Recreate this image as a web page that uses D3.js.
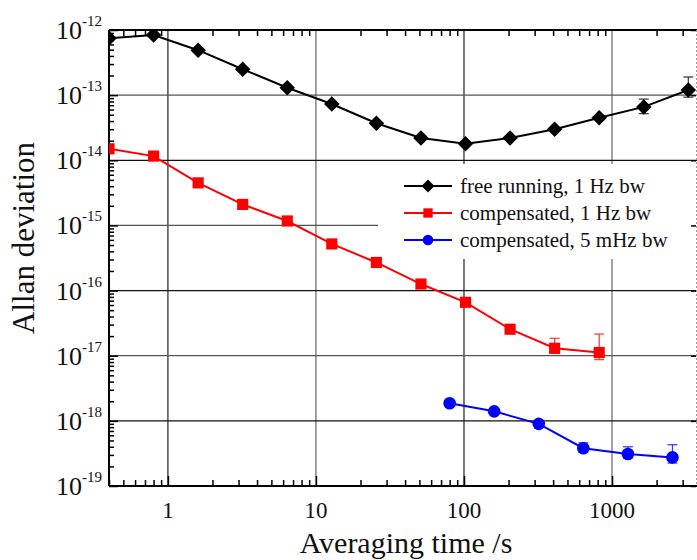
<!DOCTYPE html>
<html>
<head>
<meta charset="utf-8">
<script src="https://cdn.jsdelivr.net/npm/d3@7"></script>
<style>
  body { margin: 0; background: #fff; }
  svg { display: block; }
  svg text { font-family: "Liberation Serif", "Times New Roman", serif; }
</style>
</head>
<body>
<div id="chart"></div>
<script>
const width = 697;
const height = 560;
const margin = { top: 30, right: 0, bottom: 74, left: 109 };

// averaging times (s)
const tauFree = [0.4, 0.8, 1.6, 3.2, 6.4, 12.8, 25.6, 51.2, 102.4, 204.8, 409.6, 819.2, 1638.4, 3276.8];
const adevFree = [7.5e-13, 8.4e-13, 4.9e-13, 2.5e-13, 1.3e-13, 7.3e-14, 3.7e-14, 2.2e-14, 1.8e-14, 2.2e-14, 3.0e-14, 4.5e-14, 6.6e-14, 1.2e-13];

const tauComp = [0.4, 0.8, 1.6, 3.2, 6.4, 12.8, 25.6, 51.2, 102.4, 204.8, 409.6, 819.2];
const adevComp = [1.5e-14, 1.16e-14, 4.5e-15, 2.1e-15, 1.17e-15, 5.2e-16, 2.7e-16, 1.26e-16, 6.6e-17, 2.55e-17, 1.3e-17, 1.12e-17];

const tauSlow = [80, 160, 320, 640, 1280, 2560];
const adevSlow = [1.86e-18, 1.4e-18, 9.0e-19, 3.8e-19, 3.1e-19, 2.75e-19];

// error bars [tau, low, high]
const errFree = [[1638.4, 5.2e-14, 8.7e-14], [3276.8, 9.3e-14, 1.9e-13]];
const errComp = [[409.6, 1.1e-17, 1.85e-17], [819.2, 8.7e-18, 2.15e-17]];
const errSlow = [[640, 3.3e-19, 4.6e-19], [1280, 2.7e-19, 4.0e-19], [2560, 2.25e-19, 4.3e-19]];

const xMajor = [1, 10, 100, 1000];
const yExponents = [-19, -18, -17, -16, -15, -14, -13, -12];
const legendLabels = ["free running, 1 Hz bw", "compensated, 1 Hz bw", "compensated, 5 mHz bw"];

const x = d3.scaleLog().domain([0.4, 3750]).range([margin.left, width - margin.right]);
const y = d3.scaleLog().domain([1e-19, 1e-12]).range([height - margin.bottom, margin.top]);

const svg = d3.select("#chart").append("svg")
  .attr("width", width)
  .attr("height", height);

svg.append("defs").append("clipPath").attr("id", "plot")
  .append("rect")
  .attr("x", margin.left).attr("y", margin.top)
  .attr("width", width - margin.left - margin.right)
  .attr("height", height - margin.top - margin.bottom);

// minor ticks
const xMinor = [];
[0.1, 1, 10, 100, 1000].forEach(d => { for (let k = 2; k < 10; k++) { const v = d * k; if (v >= 0.4 && v <= 3750) xMinor.push(v); } });
const yMinor = [];
yExponents.slice(0, -1).forEach(e => { for (let k = 2; k < 10; k++) yMinor.push(k * Math.pow(10, e)); });

// grid
const grid = svg.append("g");
grid.selectAll(".vg").data(xMajor).enter().append("line")
  .attr("x1", d => x(d)).attr("x2", d => x(d))
  .attr("y1", margin.top).attr("y2", height - margin.bottom)
  .attr("stroke", (d, i) => i % 2 ? "#666" : "#222").attr("stroke-width", 1.2);
grid.selectAll(".hg").data(yExponents.slice(1, -1)).enter().append("line")
  .attr("x1", margin.left).attr("x2", width)
  .attr("y1", d => y(Math.pow(10, d))).attr("y2", d => y(Math.pow(10, d)))
  .attr("stroke", (d, i) => i % 2 ? "#555" : "#111").attr("stroke-width", 1.2);

// legend background hides grid behind it
svg.append("rect")
  .attr("x", 378).attr("y", 164).attr("width", 330).attr("height", 95)
  .attr("fill", "#fff");

// axes (ticks inward)
svg.append("g").attr("transform", `translate(0,${height - margin.bottom})`)
  .call(d3.axisBottom(x).tickValues(xMinor).tickSize(-6).tickFormat(""))
  .call(g => g.select(".domain").remove());
svg.append("g").attr("transform", `translate(0,${height - margin.bottom})`)
  .call(d3.axisBottom(x).tickValues(xMajor).tickSize(-10).tickFormat(""))
  .call(g => g.select(".domain").remove());
svg.append("g").attr("transform", `translate(0,${margin.top})`)
  .call(d3.axisTop(x).tickValues(xMinor).tickSize(-6).tickFormat(""))
  .call(g => g.select(".domain").remove());
svg.append("g").attr("transform", `translate(${margin.left},0)`)
  .call(d3.axisLeft(y).tickValues(yMinor).tickSize(-5).tickFormat(""))
  .call(g => g.select(".domain").remove());
svg.append("g").attr("transform", `translate(${margin.left},0)`)
  .call(d3.axisLeft(y).tickValues(yExponents.map(e => Math.pow(10, e))).tickSize(-9).tickFormat(""))
  .call(g => g.select(".domain").remove());
svg.append("g").attr("transform", `translate(${width - 1},0)`)
  .call(d3.axisRight(y).tickValues(yExponents.map(e => Math.pow(10, e))).tickSize(-5).tickFormat(""))
  .call(g => g.select(".domain").remove());
svg.selectAll(".tick line").attr("stroke", "#000").attr("stroke-width", 1.5);

// frame
svg.append("line").attr("x1", margin.left).attr("x2", width).attr("y1", margin.top).attr("y2", margin.top)
  .attr("stroke", "#000").attr("stroke-width", 2);
svg.append("line").attr("x1", margin.left).attr("x2", width).attr("y1", height - margin.bottom).attr("y2", height - margin.bottom)
  .attr("stroke", "#000").attr("stroke-width", 2);
svg.append("line").attr("x1", margin.left).attr("x2", margin.left).attr("y1", margin.top).attr("y2", height - margin.bottom)
  .attr("stroke", "#000").attr("stroke-width", 2);
svg.append("line").attr("x1", width - 0.5).attr("x2", width - 0.5).attr("y1", margin.top).attr("y2", height - margin.bottom)
  .attr("stroke", "#999").attr("stroke-width", 1).attr("stroke-dasharray", "2,2");

// x tick labels
svg.append("g").selectAll("text").data(xMajor).enter().append("text")
  .attr("x", d => x(d)).attr("y", 518)
  .attr("text-anchor", "middle").attr("font-size", 23).attr("fill", "#111")
  .text(d => d);

// y tick labels 10^n
const yl = svg.append("g").selectAll("text").data(yExponents).enter().append("text")
  .attr("x", 56).attr("y", d => y(Math.pow(10, d)) + 9)
  .attr("font-size", 26).attr("fill", "#111");
yl.append("tspan").text("10");
yl.append("tspan").attr("dy", -13).attr("font-size", 15).text(d => d);

// axis titles
svg.append("text")
  .attr("transform", "translate(34,238) rotate(-90)")
  .attr("text-anchor", "middle").attr("font-size", 31).attr("fill", "#111")
  .text("Allan deviation");
svg.append("text")
  .attr("x", 406).attr("y", 553)
  .attr("text-anchor", "middle").attr("font-size", 30).attr("fill", "#111")
  .text("Averaging time /s");

// series
const plot = svg.append("g").attr("clip-path", "url(#plot)");
const line = d3.line().x(d => x(d[0])).y(d => y(d[1]));

function errorBars(data, color) {
  const g = plot.append("g").attr("stroke", color).attr("stroke-width", 1.2);
  data.forEach(d => {
    const cx = x(d[0]);
    g.append("line").attr("x1", cx).attr("x2", cx).attr("y1", y(d[1])).attr("y2", y(d[2]));
    g.append("line").attr("x1", cx - 5).attr("x2", cx + 5).attr("y1", y(d[1])).attr("y2", y(d[1]));
    g.append("line").attr("x1", cx - 5).attr("x2", cx + 5).attr("y1", y(d[2])).attr("y2", y(d[2]));
  });
}

errorBars(errFree, "#333");
errorBars(errComp, "#f33");
errorBars(errSlow, "#33f");

const series = [
  { tau: tauFree, v: adevFree, color: "#000", symbol: d3.symbolSquare, size: 120, rot: 45 },
  { tau: tauComp, v: adevComp, color: "#ff0000", symbol: d3.symbolSquare, size: 125, rot: 0 },
  { tau: tauSlow, v: adevSlow, color: "#0000ff", symbol: d3.symbolCircle, size: 125, rot: 0 }
];

series.forEach(s => {
  const pts = d3.zip(s.tau, s.v);
  plot.append("path").datum(pts)
    .attr("fill", "none").attr("stroke", s.color).attr("stroke-width", 2)
    .attr("d", line);
  plot.selectAll(null).data(pts).enter().append("path")
    .attr("transform", d => `translate(${x(d[0])},${y(d[1])}) rotate(${s.rot})`)
    .attr("d", d3.symbol().type(s.symbol).size(s.size))
    .attr("fill", s.color);
});

// legend
const legend = svg.append("g");
series.forEach((s, i) => {
  const ly = 186 + i * 27;
  legend.append("line").attr("x1", 404).attr("x2", 452).attr("y1", ly).attr("y2", ly)
    .attr("stroke", s.color).attr("stroke-width", 2);
  legend.append("path").attr("transform", `translate(428,${ly}) rotate(${s.rot})`)
    .attr("d", d3.symbol().type(s.symbol).size(s.size * 0.7)).attr("fill", s.color);
  legend.append("text").attr("x", 460).attr("y", ly + 7)
    .attr("font-size", 21).attr("fill", "#111")
    .text(legendLabels[i]);
});
</script>
</body>
</html>
